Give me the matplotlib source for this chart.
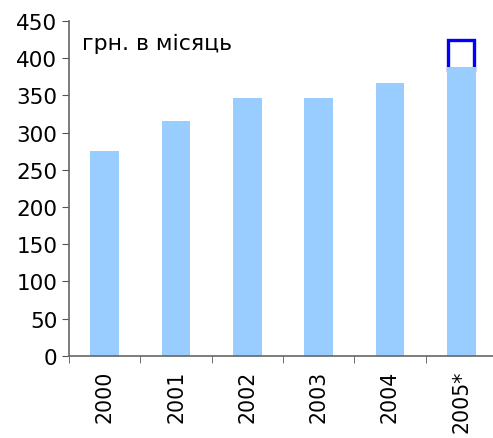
import matplotlib.pyplot as plt
import numpy as np

years = ['2000', '2001', '2002', '2003', '2004', '2005*']
wages = [275, 316, 347, 347, 366, 388]
forecast_2005 = 425

fig = plt.figure(figsize=(4.93, 4.39), dpi=100)
ax = fig.add_axes([0.14, 0.187, 0.868, 0.763])

x = np.arange(len(years))
# forecast outline for 2005, sitting on top of the actual bar
ax.bar(x[-1], forecast_2005 - wages[-1] + 4, bottom=wages[-1] - 4, width=0.36,
       facecolor='none', edgecolor='#0000FF', linewidth=2.4, zorder=1)
ax.bar(x, wages, width=0.4, color='#99CCFF', zorder=2)

ax.set_xlim(-0.5, len(years) - 0.5)
ax.set_ylim(0, 450)
ax.set_yticks(range(0, 451, 50))
ax.set_xticks(x)
ax.set_xticklabels(years, rotation=90, fontsize=14.8)
ax.tick_params(axis='x', length=0, pad=10)
ax.set_xticks(np.arange(-0.5, len(years), 1), minor=True)
ax.tick_params(axis='x', which='minor', length=5, direction='out', color='#555555')
ax.tick_params(axis='y', labelsize=15.5, length=5, color='#555555')

for s in ['top', 'right']:
    ax.spines[s].set_visible(False)
for s in ['left', 'bottom']:
    ax.spines[s].set_color('#666666')
    ax.spines[s].set_linewidth(1.2)

ax.text(0.03, 0.965, 'грн. в місяць', transform=ax.transAxes, fontsize=15.8,
        va='top', ha='left')

fig.savefig('out.png', dpi=100)
